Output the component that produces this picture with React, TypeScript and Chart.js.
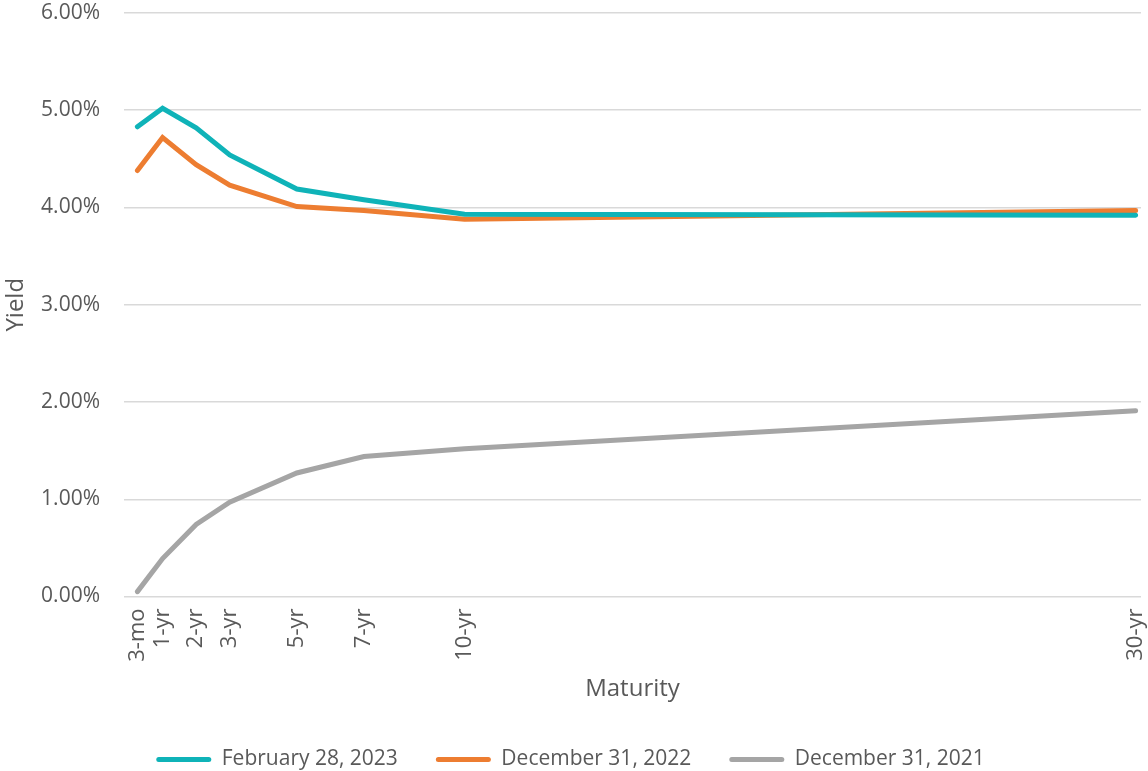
import React, { useEffect, useRef } from "react";
import { Chart, registerables } from "chart.js";

Chart.register(...registerables);

const maturityYears = [0.25, 1, 2, 3, 5, 7, 10, 30];
const maturityLabels = ["3-mo", "1-yr", "2-yr", "3-yr", "5-yr", "7-yr", "10-yr", "30-yr"];
const feb2023 = [4.83, 5.02, 4.82, 4.54, 4.19, 4.08, 3.93, 3.92];
const dec2022 = [4.38, 4.72, 4.44, 4.23, 4.01, 3.97, 3.88, 3.97];
const dec2021 = [0.05, 0.39, 0.74, 0.97, 1.27, 1.44, 1.52, 1.91];
const seriesNames = ["February 28, 2023", "December 31, 2022", "December 31, 2021"];
const seriesColors = ["#0FB3B8", "#ED7D31", "#A5A5A5"];
const yTicks = [0, 1, 2, 3, 4, 5, 6];

const FONT = "'Open Sans', 'Liberation Sans', sans-serif";
const TEXT = "#595959";

export default function App() {
  const ref = useRef<HTMLCanvasElement | null>(null);
  useEffect(() => {
    document.body.style.margin = "0";
    const toPts = (vals: number[]) => vals.map((v, i) => ({ x: maturityYears[i], y: v }));
    const all = [feb2023, dec2022, dec2021];
    const chart = new Chart(ref.current as HTMLCanvasElement, {
      type: "line",
      data: {
        datasets: all.map((vals, i) => ({
          label: seriesNames[i],
          data: toPts(vals),
          borderColor: seriesColors[i],
          backgroundColor: seriesColors[i],
          borderWidth: 5,
          pointRadius: 0,
          tension: 0,
          borderCapStyle: "round" as const,
          borderJoinStyle: "miter" as const,
        })),
      },
      options: {
        animation: false,
        responsive: true,
        maintainAspectRatio: false,
        layout: { padding: { top: 13, right: 7, left: 0, bottom: -9 } },
        plugins: {
          tooltip: { enabled: false },
          legend: {
            position: "bottom",
            labels: {
              boxWidth: 55,
              boxHeight: 5,
              padding: 38,
              color: TEXT,
              font: { family: FONT, size: 21 },
              useBorderRadius: true,
              borderRadius: 2.5,
              generateLabels: (c: any) =>
                c.data.datasets.map((d: any, i: number) => ({
                  text: d.label,
                  fillStyle: d.borderColor,
                  strokeStyle: d.borderColor,
                  lineWidth: 0,
                  hidden: false,
                  datasetIndex: i,
                  fontColor: TEXT,
                  borderRadius: 2.5,
                })),
            },
          },
        },
        scales: {
          x: {
            type: "linear",
            min: -0.15,
            max: 30.16,
            afterBuildTicks: (axis: any) => {
              axis.ticks = maturityYears.map((v) => ({ value: v }));
            },
            afterFit: (axis: any) => {
              axis.paddingLeft = 0;
              axis.paddingRight = 0;
              axis.height = 114.5;
            },
            ticks: {
              autoSkip: false,
              maxRotation: 90,
              minRotation: 90,
              padding: 12,
              color: TEXT,
              font: { family: FONT, size: 22 },
              callback: (value: any) => {
                const idx = maturityYears.indexOf(Number(value));
                return idx >= 0 ? maturityLabels[idx] : "";
              },
            },
            grid: { display: false, drawTicks: false },
            border: { display: false },
            title: {
              display: true,
              text: "Maturity",
              color: TEXT,
              font: { family: FONT, size: 24 },
              padding: { top: 0, bottom: 7 },
            },
          },
          y: {
            min: 0,
            max: 6,
            afterBuildTicks: (axis: any) => {
              axis.ticks = yTicks.map((v) => ({ value: v }));
            },
            afterFit: (axis: any) => {
              axis.paddingTop = 0;
              axis.paddingBottom = 0;
              axis.width = 124;
            },
            ticks: {
              padding: 24,
              color: TEXT,
              font: { family: FONT, size: 21 },
              callback: (v: any) => Number(v).toFixed(2) + "%",
            },
            grid: { color: "#D9D9D9", lineWidth: 1.5, drawTicks: false },
            border: { display: false },
            title: {
              display: true,
              text: "Yield",
              color: TEXT,
              font: { family: FONT, size: 24 },
              padding: { top: 2, bottom: 0 },
            },
          },
        },
      },
    } as any);
    return () => chart.destroy();
  }, []);
  return (
    <div style={{ width: 1148, height: 771, position: "relative" }}>
      <canvas ref={ref} />
    </div>
  );
}
